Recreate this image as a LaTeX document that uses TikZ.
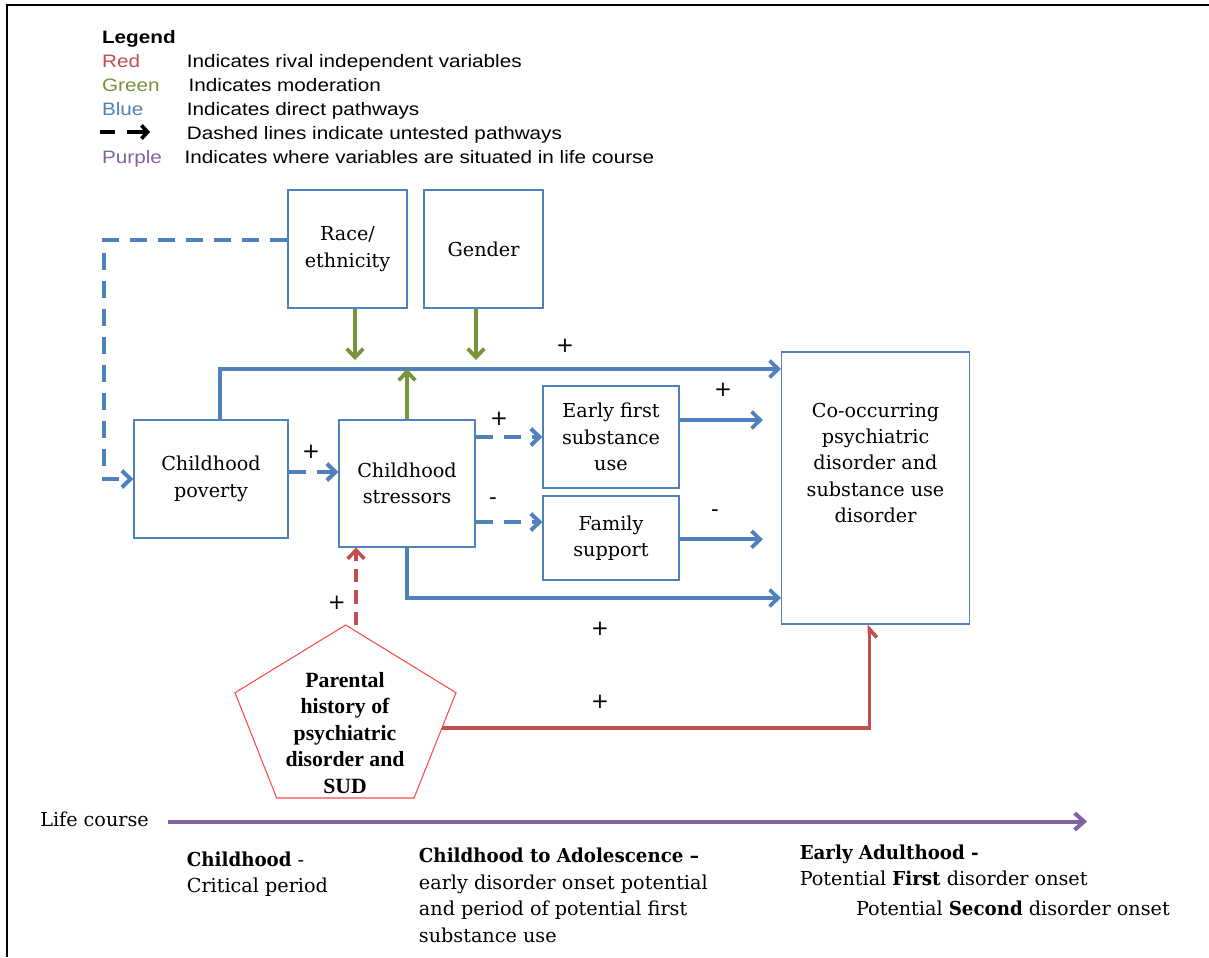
\documentclass[tikz,border=0pt]{standalone}
\usepackage{fontspec}
\setmainfont{DejaVu Serif}[BoldFeatures={FakeStretch=0.95}]
\newfontfamily\legfont[FakeStretch=1.15]{Liberation Sans}
\newfontfamily\pentfont{Liberation Serif}
\newfontfamily\signfont{DejaVu Sans}
\usetikzlibrary{arrows.meta}
\definecolor{cblue}{HTML}{4F81BD}
\definecolor{cgreen}{HTML}{77933C}
\definecolor{cred}{HTML}{C0504D}
\definecolor{cpurple}{HTML}{8064A2}
\definecolor{pentred}{HTML}{FF4A4A}
\newcommand\bxfont{\fontsize{14.4pt}{19.8pt}\selectfont}
\newcommand\lgfont{\legfont\fontsize{13.5pt}{16pt}\selectfont}
\newcommand\ptfont{\pentfont\bfseries\fontsize{16.3pt}{19.9pt}\selectfont}
\newcommand\sgfont{\signfont\fontsize{16pt}{18pt}\selectfont}
\begin{document}
\begin{tikzpicture}[x=0.75pt,y=-0.75pt,
  box/.style={draw=cblue, line width=0.9pt, inner sep=0pt, align=center, font=\bxfont},
  txt/.style={inner sep=0pt, font=\bxfont},
  leg/.style={inner sep=0pt, anchor=base west, font=\lgfont},
  sign/.style={inner sep=0pt, font=\sgfont},
  tip/.style={-{Straight Barb[length=6.5pt,width=12.5pt]}},
  blueline/.style={draw=cblue, line width=2.8pt, tip},
  bluedash/.style={blueline, line width=3pt, dash pattern=on 12.75pt off 8.25pt},
  greenline/.style={draw=cgreen, line width=2.8pt, tip},
  redline/.style={draw=cred, line width=2.8pt, -{Straight Barb[length=6pt,width=11pt,harpoon,swap]}},
  reddash/.style={draw=cred, line width=2.6pt, tip, dash pattern=on 10pt off 6pt},
  purpleline/.style={draw=cpurple, line width=3pt, -{Straight Barb[length=7pt,width=12.5pt]}},
]
\fill[white] (0,0) rectangle (1209,957);
\useasboundingbox (0,0) rectangle (1209,957);
\draw[line width=1.8pt] (7,957) -- (7,5) -- (1209,5);

% Legend
\node[leg] (lg0) at (101.8,43.3) {\bfseries Legend};
\node[leg, text=cred] (lg1) at (101.8,67.7) {Red};
\node[leg] (lg1t) at (186.6,67.7) {Indicates rival independent variables};
\node[leg, text=cgreen] (lg2) at (101.8,91.7) {Green};
\node[leg] (lg2t) at (188.4,91.7) {Indicates moderation};
\node[leg, text=cblue] (lg3) at (101.8,115) {Blue};
\node[leg] (lg3t) at (186.6,115) {Indicates direct pathways};
\coordinate (ld1) at (100,132);
\coordinate (ld2) at (115,132);
\coordinate (la1) at (127,132);
\coordinate (la2) at (150,132);
\draw[line width=2.8pt] (ld1) -- (ld2);
\draw[line width=2.8pt, -{Straight Barb[length=4.5pt,width=10pt]}] (la1) -- (la2);
\node[leg] (lg4t) at (186.6,139.3) {Dashed lines indicate untested pathways};
\node[leg, text=cpurple] (lg5) at (101.8,163.3) {Purple};
\node[leg] (lg5t) at (184.4,163.3) {Indicates where variables are situated in life course};

% Boxes
\node[box, minimum width=89.25pt, minimum height=88.5pt] (race) at (347.5,249) {Race/\\ethnicity};
\node[box, minimum width=89.25pt, minimum height=88.5pt] (gender) at (483.5,249) {Gender};
\node[box, minimum width=115.5pt, minimum height=88.5pt] (poverty) at (211,479) {Childhood\\poverty};
\node[box, minimum width=102pt, minimum height=95.25pt] (stressors) at (407,483.5) {Childhood\\stressors};
\node[box, minimum width=102pt, minimum height=76.5pt] (early) at (611,437) {Early first\\substance\\use};
\node[box, minimum width=102pt, minimum height=63pt] (family) at (611,538) {Family\\support};
\node[box, minimum width=141pt, minimum height=204pt] (cooc) at (875.5,488) {};
\node[txt, align=center] (cooctext) at (875.5,463) {Co-occurring\\psychiatric\\disorder and\\substance use\\disorder};

% Pentagon
\coordinate (pA) at (345.7,625);
\coordinate (pB) at (456,692.7);
\coordinate (pC) at (414,798);
\coordinate (pD) at (276.7,798);
\coordinate (pE) at (235,692.7);
\draw[draw=pentred, line width=0.8pt] (pA) -- (pB) -- (pC) -- (pD) -- (pE) -- cycle;
\node[align=center, font=\ptfont, inner sep=0pt] (parent) at (345,733) {Parental\\history of\\psychiatric\\disorder and\\SUD};

% Connectors
\coordinate (T) at (220,369);
\draw[blueline] (poverty.north -| T) |- (cooc.west |- T);
\draw[greenline] (stressors.north) -- (stressors.north |- T);
\coordinate (G1) at (355,360);
\coordinate (G2) at (476,360);
\draw[greenline] (race.south -| G1) -- (G1);
\draw[greenline] (gender.south -| G2) -- (G2);
\coordinate (D) at (104,240);
\draw[bluedash] (race.west |- D) -- (D) |- (poverty.west);
\coordinate (P) at (0,472);
\draw[bluedash] (poverty.east |- P) -- (stressors.west |- P);
\draw[bluedash] (stressors.east |- early.west) -- (early.west);
\coordinate (F) at (0,522);
\draw[bluedash] (stressors.east |- F) -- (family.west |- F);
\coordinate (E) at (0,420);
\draw[blueline, shorten >=13.5pt] (early.east |- E) -- (cooc.west |- E);
\coordinate (FS) at (0,539.3);
\draw[blueline, shorten >=13.5pt] (family.east |- FS) -- (cooc.west |- FS);
\coordinate (B) at (0,598);
\draw[blueline] (stressors.south) |- (cooc.west |- B);
\coordinate (rd) at (356,625);
\draw[reddash] (rd) -- (stressors.south -| rd);
\coordinate (rs) at (442,727.7);
\coordinate (rc) at (869.5,0);
\draw[redline] (rs) -| (cooc.south -| rc);

% Signs
\node[sign] (s1) at (565,346) {+};
\node[sign] (s2) at (311,452) {+};
\node[sign] (s3) at (499,419) {+};
\node[sign] (s4) at (493,501) {-};
\node[sign] (s5) at (723,390) {+};
\node[sign] (s6) at (715,513) {-};
\node[sign] (s7) at (600,629) {+};
\node[sign] (s8) at (600,702) {+};
\node[sign] (s9) at (336.7,603) {+};

% Life course
\node[txt, anchor=base west] (life) at (40,826) {Life course};
\coordinate (lc1) at (168,821.5);
\coordinate (lc2) at (1087,821.5);
\draw[purpleline] (lc1) -- (lc2);
\node[txt, anchor=north west, align=left] (per1) at (186.6,851.4) {\textbf{Childhood} -\\Critical period};
\node[txt, anchor=north west, align=left] (per2) at (418.7,848.1) {\textbf{Childhood to Adolescence –}\\early disorder onset potential\\and period of potential first\\substance use};
\node[txt, anchor=north west, align=left] (per3) at (799.5,844.4) {\textbf{Early Adulthood -}\\Potential \textbf{First} disorder onset};
\node[txt, anchor=base west] (per4) at (855.8,915) {Potential \textbf{Second} disorder onset};
\end{tikzpicture}
\end{document}
